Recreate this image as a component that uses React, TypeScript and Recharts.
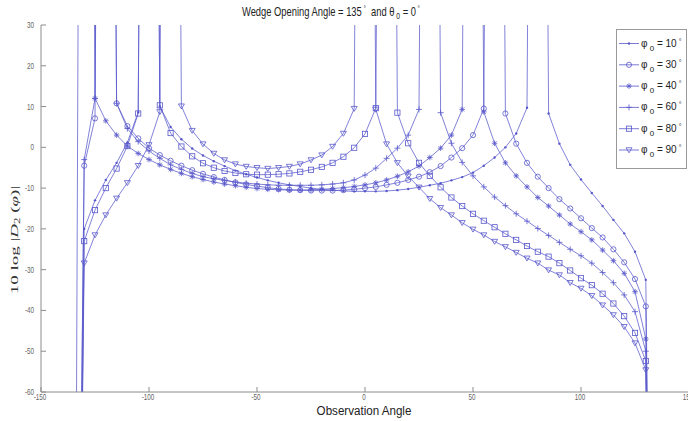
import React from 'react'
import { LineChart, Line, XAxis, YAxis } from 'recharts'

// observation angles (deg), one point every 5 degrees
const angles = [
  -135, -130, -125, -120, -115, -110, -105, -100, -95, -90, -85, -80, -75, -70, -65, -60, -55, -50, -45,
  -40, -35, -30, -25, -20, -15, -10, -5, 0, 5, 10, 15, 20, 25, 30, 35, 40, 45, 50, 55, 60, 65, 70, 75,
  80, 85, 90, 95, 100, 105, 110, 115, 120, 125, 130, 135,
]

// 10log|D2| per incidence angle, singular points run far off the top, wedge faces far off the bottom
const phi10 = [
  -250, -20.0, -13.0, -8.0, -3.8, 1.2, 8.6, 400,
  10.0, 5.0, 2.0, -0.3, -2.0, -3.4, -4.6, -5.7, -6.6, -7.4, -8.1, -8.7, -9.2, -9.6, -10.0, -10.3, -10.5,
  -10.7, -10.8, -10.8, -10.8, -10.7, -10.5, -10.2, -9.8, -9.3, -8.8, -8.1, -7.3, -6.2, -4.5, -2.5, 0.0, 3.4, 9.7,
  400,
  8.3, 0.9, -4.3, -7.9, -11.2, -14.4, -17.8, -21.1, -25.6, -32.5,
  -250,
]
const phi30 = [
  -250, -4.5, 7.1, 400,
  10.8, 5.2, 2.2, -0.2, -1.9, -3.3, -4.5, -5.6, -6.5, -7.3, -8.0, -8.6, -9.1, -9.5, -9.9, -10.2, -10.4,
  -10.5, -10.6, -10.6, -10.6, -10.5, -10.3, -10.0, -9.7, -9.2, -8.7, -8.0, -7.2, -6.1, -4.6, -2.5, -0.2, 3.0, 9.5,
  400,
  8.3, 0.9, -3.8, -7.2, -10.0, -12.7, -15.0, -17.4, -19.8, -22.1, -25.0, -28.2, -32.3, -39.0,
  -250,
]
const phi40 = [
  -250, 400,
  12.0, 6.5, 3.0, 0.3, -1.5, -3.0, -4.3, -5.4, -6.4, -7.2, -7.9, -8.5, -9.0, -9.4, -9.8, -10.1, -10.3,
  -10.4, -10.5, -10.5, -10.4, -10.3, -10.1, -9.9, -9.6, -9.2, -8.7, -8.0, -7.1, -6.0, -4.6, -2.5, -0.2, 3.0, 9.3,
  400,
  8.7, 1.0, -3.8, -7.0, -9.7, -12.3, -14.4, -16.6, -18.8, -20.7, -22.7, -25.2, -27.8, -30.9, -35.4, -47.0,
  -250,
]
const phi60 = [
  -250, -3.0, 12.0, 400,
  10.8, 4.6, 1.4, -0.9, -2.7, -4.3, -5.4, -6.4, -7.2, -7.7, -8.1, -8.5, -8.8, -9.0, -9.2, -9.3, -9.3,
  -9.3, -9.3, -9.2, -9.0, -8.7, -8.0, -6.8, -5.1, -2.7, -0.2, 3.0, 9.3,
  400,
  8.5, 1.0, -3.7, -7.0, -9.7, -12.2, -14.3, -16.3, -18.1, -19.9, -21.6, -23.3, -25.0, -26.6, -28.4, -30.7,
  -33.2, -36.2, -40.3, -50.0,
  -250,
]
const phi80 = [
  -250, -23.0, -15.4, -10.0, -5.2, 0.3, 8.3, 400,
  10.3, 3.5, 0.2, -2.2, -3.9, -5.0, -5.8, -6.3, -6.6, -6.7, -6.7, -6.6, -6.4, -6.0, -5.5, -4.8, -3.8, -2.3, -0.1, 3.3, 9.6,
  400,
  8.5, 1.0, -3.8, -7.0, -9.8, -12.3, -14.4, -16.3, -18.0, -19.6, -21.2, -22.7, -24.2, -25.6, -26.8, -28.4,
  -30.2, -32.1, -33.8, -35.9, -38.3, -41.4, -45.5, -52.4,
  -250,
]
const phi90 = [
  -250, -28.4, -21.5, -16.6, -12.5, -8.7, -4.5, 0.6, 8.7, 400,
  10.1, 4.1, 0.8, -1.5, -3.1, -4.1, -4.7, -5.0, -5.2, -5.0, -4.7, -4.1, -3.1, -1.9, 0.2, 3.4, 9.5,
  400,
  9.3, 0.8, -3.8, -7.1, -9.8, -12.6, -14.8, -16.6, -18.5, -20.1, -21.5, -23.1, -24.4, -25.8, -27.2, -28.4,
  -30.1, -31.3, -33.2, -34.6, -36.4, -38.7, -41.1, -44.0, -48.0, -54.6,
  -250,
]

const xTicks = [-150, -100, -50, 0, 50, 100, 150]
const yTicks = [-60, -50, -40, -30, -20, -10, 0, 10, 20, 30]

type Shape = 'point' | 'circle' | 'star' | 'plus' | 'square' | 'triangle'

const series: { key: string; label: string; values: number[]; shape: Shape }[] = [
  { key: 'p10', label: '10', values: phi10, shape: 'point' },
  { key: 'p30', label: '30', values: phi30, shape: 'circle' },
  { key: 'p40', label: '40', values: phi40, shape: 'star' },
  { key: 'p60', label: '60', values: phi60, shape: 'plus' },
  { key: 'p80', label: '80', values: phi80, shape: 'square' },
  { key: 'p90', label: '90', values: phi90, shape: 'triangle' },
]

const rows = angles.map((angle, i) => {
  const row: Record<string, number> = { angle }
  series.forEach((s) => {
    row[s.key] = s.values[i]
  })
  return row
})

const BLUE = '#5858cc'
const AXIS = '#8c8c8c'
const LABEL = '#666'
const SANS = "'Liberation Sans', Arial, sans-serif"
const SERIF = "'Liberation Serif', 'DejaVu Serif', serif"
const TICK_SIZE = 5
const TICK_MARGIN = 2

const Marker = ({ shape, cx, cy }: { shape: Shape; cx: number; cy: number }) => {
  const common = { stroke: BLUE, strokeWidth: 0.8, fill: 'none' }
  switch (shape) {
    case 'point':
      return <circle cx={cx} cy={cy} r={1.2} fill={BLUE} />
    case 'circle':
      return <circle cx={cx} cy={cy} r={2.6} {...common} />
    case 'star':
      return (
        <path
          d={`M${cx - 2.8},${cy}h5.6M${cx},${cy - 2.8}v5.6M${cx - 2},${cy - 2}l4,4M${cx - 2},${cy + 2}l4,-4`}
          {...common}
        />
      )
    case 'plus':
      return <path d={`M${cx - 3},${cy}h6M${cx},${cy - 3}v6`} {...common} />
    case 'square':
      return <rect x={cx - 2.6} y={cy - 2.6} width={5.2} height={5.2} {...common} />
    default:
      return <path d={`M${cx - 3},${cy - 2.2}L${cx + 3},${cy - 2.2}L${cx},${cy + 2.8}Z`} {...common} />
  }
}

const renderDot = (shape: Shape) => (props: any) => {
  const { cx, cy, value, index } = props
  const k = `${shape}-${index}`
  if (cx == null || cy == null || value > 30 || value < -60) return <g key={k} />
  return (
    <g key={k}>
      <Marker shape={shape} cx={cx} cy={cy} />
    </g>
  )
}

const BottomTick = (props: any) => {
  const { x, y, payload } = props
  const axisY = y - TICK_SIZE - TICK_MARGIN
  return (
    <g>
      <line x1={x} y1={axisY} x2={x} y2={axisY - 5} stroke={AXIS} />
      <g transform={`translate(${x - 1},${axisY + 8}) scale(0.7,1)`}>
        <text x={0} y={0} textAnchor="middle" fontSize={9} fill={LABEL} fontFamily={SANS}>
          {payload.value}
        </text>
      </g>
    </g>
  )
}

const TopTick = (props: any) => {
  const { x, y } = props
  const axisY = y + TICK_SIZE + TICK_MARGIN
  return <line x1={x} y1={axisY} x2={x} y2={axisY + 5} stroke={AXIS} />
}

const LeftTick = (props: any) => {
  const { x, y, payload } = props
  const axisX = x + TICK_SIZE + TICK_MARGIN
  return (
    <g>
      <line x1={axisX} y1={y} x2={axisX + 5} y2={y} stroke={AXIS} />
      <g transform={`translate(${axisX - 7},${y + 3}) scale(0.7,1)`}>
        <text x={0} y={0} textAnchor="end" fontSize={9} fill={LABEL} fontFamily={SANS}>
          {payload.value}
        </text>
      </g>
    </g>
  )
}

const Overlay = () => (
  <svg width={688} height={421} style={{ position: 'absolute', left: 0, top: 0, pointerEvents: 'none' }}>
    <g transform="translate(331,16) scale(0.75,1)">
      <text x={0} y={0} textAnchor="middle" fontSize={12.5} fill="#222" fontFamily={SANS} style={{ whiteSpace: 'pre' }}>
        Wedge Opening Angle = 135
        <tspan fontSize={8} dy={-5}> °</tspan>
        <tspan dy={5}>  and θ</tspan>
        <tspan fontSize={9} dy={3}> 0</tspan>
        <tspan dy={-3}> = 0</tspan>
        <tspan fontSize={8} dy={-5}> °</tspan>
      </text>
    </g>
    <g transform="translate(364,415) scale(0.86,1)">
      <text x={0} y={0} textAnchor="middle" fontSize={13.5} fill="#222" fontFamily={SANS}>
        Observation Angle
      </text>
    </g>
    <g transform="translate(18,240) rotate(-90) scale(1,0.58)">
      <text x={0} y={0} textAnchor="middle" fontSize={19} fill="#333" fontFamily={SERIF} style={{ whiteSpace: 'pre' }}>
        10 log |<tspan fontStyle="italic">D</tspan>
        <tspan fontSize={13} dy={4}>2</tspan>
        <tspan dy={-4}> (</tspan>
        <tspan fontStyle="italic">φ</tspan>)|
      </text>
    </g>
    <rect x={616.5} y={29.5} width={70} height={139} fill="#fff" stroke="#999" />
    {series.map((s, i) => {
      const ly = 43.5 + i * 21.3
      return (
        <g key={s.key}>
          <line x1={619} y1={ly} x2={639} y2={ly} stroke={BLUE} strokeWidth={0.8} />
          <Marker shape={s.shape} cx={629} cy={ly} />
          <text x={641} y={ly + 3} fontSize={10} fill="#222" fontFamily={SANS} style={{ whiteSpace: 'pre' }}>
            φ<tspan fontSize={8} dy={4}> 0</tspan>
            <tspan dy={-4}> = {s.label}</tspan>
            <tspan fontSize={7} dy={-3}> °</tspan>
          </text>
        </g>
      )
    })}
  </svg>
)

const App = () => (
  <div style={{ position: 'absolute', left: 0, top: 0, width: 688, height: 421, overflow: 'hidden', background: '#fff' }}>
    <LineChart width={700} height={421} data={rows} margin={{ top: 25, right: 11, bottom: 0, left: 0 }}>
      <XAxis
        type="number"
        dataKey="angle"
        domain={[-150, 150]}
        ticks={xTicks}
        interval={0}
        allowDataOverflow
        height={29}
        axisLine={{ stroke: AXIS }}
        tickLine={false}
        tickSize={TICK_SIZE}
        tickMargin={TICK_MARGIN}
        tick={<BottomTick />}
      />
      <XAxis
        xAxisId="top"
        orientation="top"
        type="number"
        dataKey="angle"
        domain={[-150, 150]}
        ticks={xTicks}
        interval={0}
        allowDataOverflow
        height={0}
        axisLine={{ stroke: AXIS }}
        tickLine={false}
        tickSize={TICK_SIZE}
        tickMargin={TICK_MARGIN}
        tick={<TopTick />}
      />
      <YAxis
        type="number"
        domain={[-60, 30]}
        ticks={yTicks}
        interval={0}
        allowDataOverflow
        width={41}
        axisLine={{ stroke: AXIS }}
        tickLine={false}
        tickSize={TICK_SIZE}
        tickMargin={TICK_MARGIN}
        tick={<LeftTick />}
      />
      {series.map((s) => (
        <Line
          key={s.key}
          type="linear"
          dataKey={s.key}
          stroke={BLUE}
          strokeWidth={0.75}
          dot={renderDot(s.shape)}
          activeDot={false}
          isAnimationActive={false}
        />
      ))}
    </LineChart>
    <Overlay />
  </div>
)

export default App
